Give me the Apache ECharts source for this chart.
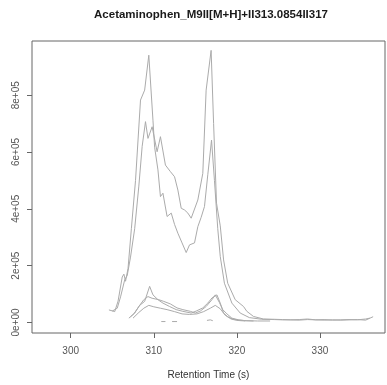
<!DOCTYPE html>
<html>
<head>
<meta charset="utf-8">
<script src="https://cdn.jsdelivr.net/npm/echarts@6/dist/echarts.min.js"></script>
<style>
  html, body { margin: 0; padding: 0; background: #fff; }
  #chart { width: 387px; height: 385px; }
</style>
</head>
<body>
<div id="chart"></div>
<script>
// Extracted ion chromatograms, retention time (s) vs intensity
const rtA = [304.6, 305.3, 305.7, 306.2, 306.4, 306.6, 306.9, 307.3, 307.8, 308.4, 308.9, 309.4, 309.9, 310.1, 310.5, 310.8, 311.1, 311.6, 312.1, 312.5, 312.9, 313.4, 313.9, 314.3, 314.9, 315.3, 315.7, 316.1, 316.5, 316.95, 317.3, 317.7, 318.0, 318.5, 319.4, 320.4, 321.5, 323.0, 324.5, 325.5, 326.5, 327.5, 328.5, 329.5, 330.5, 331.5, 332.5, 333.5, 334.5, 335.5, 336.4];
const intA = [44000, 38000, 75000, 160000, 170000, 145000, 190000, 330000, 500000, 783000, 818000, 941000, 712000, 617000, 537000, 443000, 455000, 373000, 385000, 345000, 314000, 280000, 246000, 273000, 280000, 337000, 370000, 408000, 520000, 642000, 500000, 330000, 232000, 138000, 68000, 33000, 17000, 11000, 10000, 9000, 9000, 8000, 10000, 9000, 8000, 9000, 8000, 9000, 10000, 8000, 20000];

const rtB = [305.0, 305.6, 306.0, 306.5, 306.8, 307.2, 307.7, 308.2, 308.6, 309.0, 309.3, 309.8, 310.4, 310.8, 311.4, 312.0, 312.5, 312.9, 313.3, 313.7, 314.1, 314.5, 315.3, 315.9, 316.3, 316.9, 317.2, 317.55, 318.0, 318.4, 318.9, 319.8, 320.8, 321.2, 322.0, 323.2, 324.5, 325.5, 326.5, 327.5, 328.5, 329.5, 330.5, 331.5, 332.5, 333.5, 334.5, 335.5, 336.0];
const intB = [40000, 50000, 90000, 150000, 165000, 230000, 330000, 480000, 620000, 707000, 648000, 689000, 601000, 654000, 554000, 531000, 513000, 466000, 402000, 396000, 385000, 367000, 431000, 525000, 818000, 958000, 700000, 420000, 340000, 220000, 138000, 80000, 56000, 39000, 21000, 12000, 11000, 10000, 9000, 10000, 12000, 9000, 10000, 8000, 9000, 10000, 9000, 12000, 15000];

const rtC = [307.2, 307.7, 308.3, 308.9, 309.5, 309.9, 310.5, 311.1, 311.9, 312.7, 313.5, 314.5, 315.1, 315.9, 316.5, 317.0, 317.6, 318.0, 318.4, 318.9, 319.5, 320.3, 321.2, 322.5, 324.0];
const intC = [20000, 33000, 60000, 74000, 127000, 97000, 80000, 68000, 56000, 45000, 39000, 33000, 40000, 51000, 68000, 86000, 97000, 68000, 33000, 20000, 12000, 8000, 6000, 5000, 5000];

const rtD = [307.0, 307.6, 308.2, 308.8, 309.3, 309.8, 310.6, 311.2, 312.0, 312.8, 313.5, 314.4, 315.0, 315.6, 316.3, 317.0, 317.4, 317.9, 318.3, 318.8, 319.4, 320.2, 321.0, 322.0];
const intD = [15000, 30000, 56000, 80000, 91000, 85000, 80000, 74000, 65000, 51000, 45000, 39000, 33000, 40000, 56000, 80000, 97000, 70000, 45000, 30000, 15000, 9000, 6000, 5000];

const rtE = [307.5, 308.2, 308.8, 309.4, 310.0, 310.8, 311.6, 312.5, 313.4, 314.3, 315.2, 316.0, 316.8, 317.4, 318.0, 318.6, 319.3, 320.0, 321.0];
const intE = [15000, 35000, 50000, 60000, 55000, 50000, 45000, 38000, 30000, 28000, 30000, 38000, 50000, 60000, 48000, 25000, 12000, 7000, 5000];

// sparse trace: null marks missing scans
const rtF = [310.9, 311.4, 311.8, 312.2, 312.8, 313.2, 316.4, 316.8, 317.1];
const intF = [3000, 3000, null, 3000, 3000, null, 7000, 9000, 6000];

const xTicks = [300, 310, 320, 330];
const yTicks = [0, 200000, 400000, 600000, 800000];
const yTickLabels = ['0e+00', '2e+05', '4e+05', '6e+05', '8e+05'];

const titleText = 'Acetaminophen_M9II[M+H]+II313.0854II317';
const xTitle = 'Retention Time (s)';

const FONT = '"Liberation Sans", Arial, Helvetica, sans-serif';
const LINE = '#ababab';

function pairs(xs, ys) {
  return xs.map((x, i) => [x, ys[i]]);
}

const traces = [[rtA, intA], [rtB, intB], [rtC, intC], [rtD, intD], [rtE, intE], [rtF, intF]];

const chart = echarts.init(document.getElementById('chart'), null, { renderer: 'canvas' });
chart.setOption({
  animation: false,
  backgroundColor: '#ffffff',
  grid: {
    left: 32, right: 2, top: 41, bottom: 52,
    show: true, borderColor: '#666666', borderWidth: 1,
    containLabel: false, outerBoundsMode: 'none'
  },
  xAxis: {
    type: 'value',
    min: 295.34, max: 337.83,
    axisLine: { show: false, onZero: false },
    splitLine: { show: false },
    axisTick: { show: true, customValues: xTicks, length: 5, inside: false, lineStyle: { color: '#666666' } },
    axisLabel: { customValues: xTicks, margin: 13, color: '#555', fontSize: 10, fontFamily: FONT,
      formatter: v => String(v) },
    name: xTitle,
    nameLocation: 'middle',
    nameGap: 37,
    nameTextStyle: { color: '#333', fontSize: 10, fontFamily: FONT, verticalAlign: 'top' }
  },
  yAxis: {
    type: 'value',
    min: -37300, max: 991000,
    axisLine: { show: false, onZero: false },
    splitLine: { show: false },
    axisTick: { show: true, customValues: yTicks, length: 5, lineStyle: { color: '#666666' } },
    axisLabel: { customValues: yTicks, rotate: 90, margin: 11, color: '#555', fontSize: 10, fontFamily: FONT,
      formatter: v => yTickLabels[yTicks.indexOf(v)] }
  },
  graphic: [{
    type: 'text',
    x: 211, y: 15,
    style: {
      text: titleText,
      x: 0, y: 0,
      align: 'center', verticalAlign: 'middle',
      fill: '#1a1a1a',
      font: 'bold 11.5px ' + FONT
    }
  }],
  series: traces.map(t => ({
    type: 'line',
    data: pairs(t[0], t[1]),
    showSymbol: false,
    symbol: 'none',
    connectNulls: false,
    clip: true,
    lineStyle: { color: LINE, width: 1 }
  }))
});
</script>
</body>
</html>
